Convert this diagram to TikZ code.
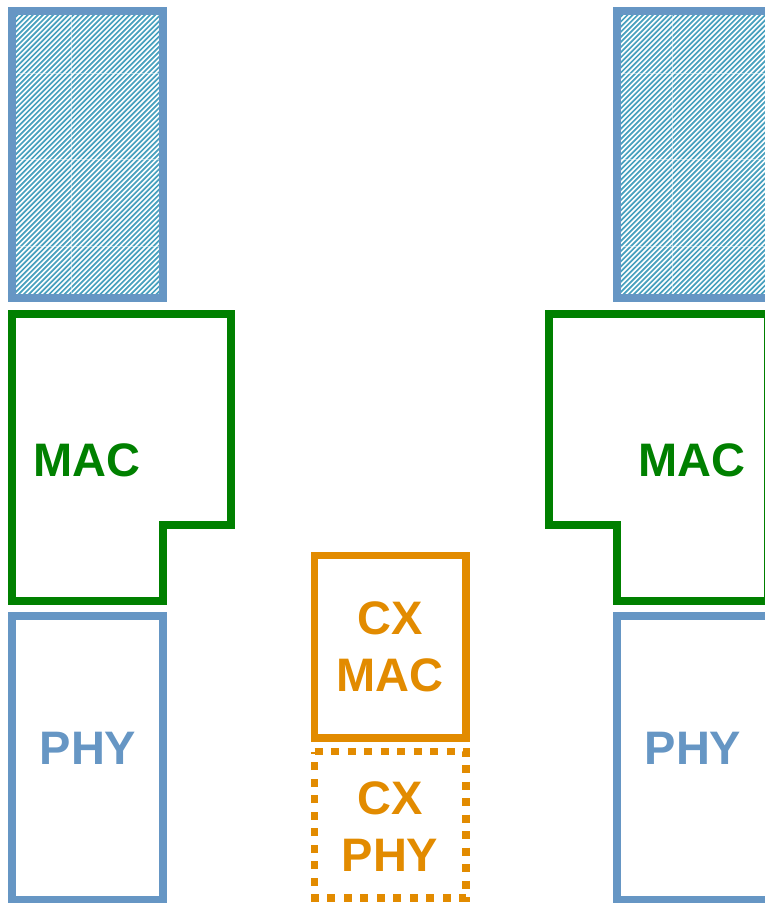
\documentclass[tikz,border=0pt]{standalone}
\usepackage{fontspec}
\setmainfont{Liberation Sans}
\definecolor{bluebd}{RGB}{102,150,196}
\definecolor{hatchc}{RGB}{72,160,190}
\definecolor{macgreen}{RGB}{0,128,0}
\definecolor{cxorange}{RGB}{226,139,0}
\begin{document}
\begin{tikzpicture}[x=1pt,y=-1pt,
  lbl/.style={font=\fontsize{47}{57}\selectfont\bfseries, inner sep=0pt, align=center},
  bluebox/.style={draw=bluebd, line width=8pt},
  macline/.style={draw=macgreen, line width=8pt},
  cxbox/.style={draw=cxorange, line width=7.5pt},
  cxdot/.style={draw=cxorange, line width=7.5pt, dash pattern=on 8pt off 8.5pt},
  hatchline/.style={draw=hatchc, line width=1.7pt},
  seam/.style={draw=white, line width=0.8pt, opacity=0.45}]
\useasboundingbox (0,0) rectangle (765,903);
% hatched stacks
\foreach \xa/\xb in {12/163, 617/780}{
  \begin{scope}
    \clip (\xa,11) rectangle (\xb,298);
    \foreach \c in {0,5.1,...,600}{
      \draw[hatchline] (\xa+\c,0) -- ++(-400,400);
    }
  \end{scope}
}
\draw[seam] (71,15) -- (71,294);
\draw[seam] (672,15) -- (672,294);
\foreach \yy in {73,159,246}{
  \draw[seam] (16,\yy) -- (159,\yy);
  \draw[seam] (621,\yy) -- (765,\yy);
}
\draw[bluebox] (12,11) rectangle (163,298);
\draw[bluebox] (617,11) rectangle (769,298);
% MAC shapes
\draw[macline] (12,314) -- (231,314) -- (231,525) -- (163,525) -- (163,601) -- (12,601) -- cycle;
\draw[macline] (549,314) -- (768,314) -- (768,601) -- (617,601) -- (617,525) -- (549,525) -- cycle;
% PHY boxes
\draw[bluebox] (12,616) rectangle (163,900);
\draw[bluebox] (617,616) rectangle (769,900);
% CX boxes
\draw[cxbox] (314.5,555.5) rectangle (466,738);
\draw[cxdot] (314.5,751.5) -- (466,751.5) -- (466,898) -- (314.5,898) -- cycle;
% labels
\node[lbl, text=macgreen] (macL) at (87,460) {MAC};
\node[lbl, text=macgreen] (macR) at (692,460) {MAC};
\node[lbl, text=bluebd] (phyL) at (88,748) {PHY};
\node[lbl, text=bluebd] (phyR) at (693,748) {PHY};
\node[lbl, text=cxorange] (cxmac) at (390,647) {CX\\MAC};
\node[lbl, text=cxorange] (cxphy) at (390,827) {CX\\PHY};
\end{tikzpicture}
\end{document}
